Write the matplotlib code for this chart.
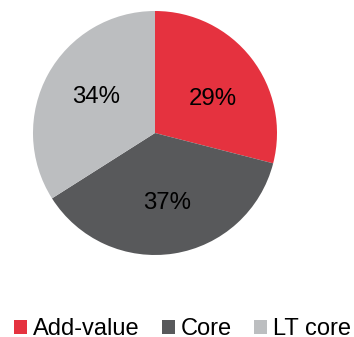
import numpy as np
import matplotlib
matplotlib.use("Agg")
import matplotlib.pyplot as plt
from matplotlib.patches import Patch

plt.rcParams['font.family'] = ['Liberation Sans', 'DejaVu Sans']

categories = ["Add-value", "Core", "LT core"]
shares = [29, 37, 34]
colors = ["#E5323F", "#58595B", "#BCBEC0"]

W, H = 354, 337
fig = plt.figure(figsize=(W / 100, H / 100), dpi=100)
ax = fig.add_axes([33 / W, (H - 255) / H, 244 / W, 244 / H])

wedges, texts, autotexts = ax.pie(
    shares, colors=colors, startangle=90, counterclock=False,
    autopct=lambda p: f"{p:.0f}%", pctdistance=0.57,
    wedgeprops=dict(linewidth=0),
    textprops=dict(fontsize=17.3, color="black"),
)

# fine placement of the percentage labels inside each wedge
label_radius = [0.55, 0.58, 0.57]
label_turn = [-7.8, 0.8, -2.6]
for w, t, r, d in zip(wedges, autotexts, label_radius, label_turn):
    ang = np.deg2rad((w.theta1 + w.theta2) / 2 + d)
    t.set_position((r * np.cos(ang), r * np.sin(ang)))

ax.set_xlim(-1, 1)
ax.set_ylim(-1, 1)
ax.set_aspect("equal")

handles = [Patch(facecolor=c, edgecolor="none") for c in colors]
fig.legend(handles, categories, loc="center left",
           bbox_to_anchor=(14 / W, 1 - 329 / H), ncol=3, frameon=False,
           fontsize=17, handlelength=0.55, handleheight=0.55,
           handletextpad=0.25, columnspacing=0.95, borderpad=0,
           borderaxespad=0)

fig.savefig("out.png", dpi=100)
